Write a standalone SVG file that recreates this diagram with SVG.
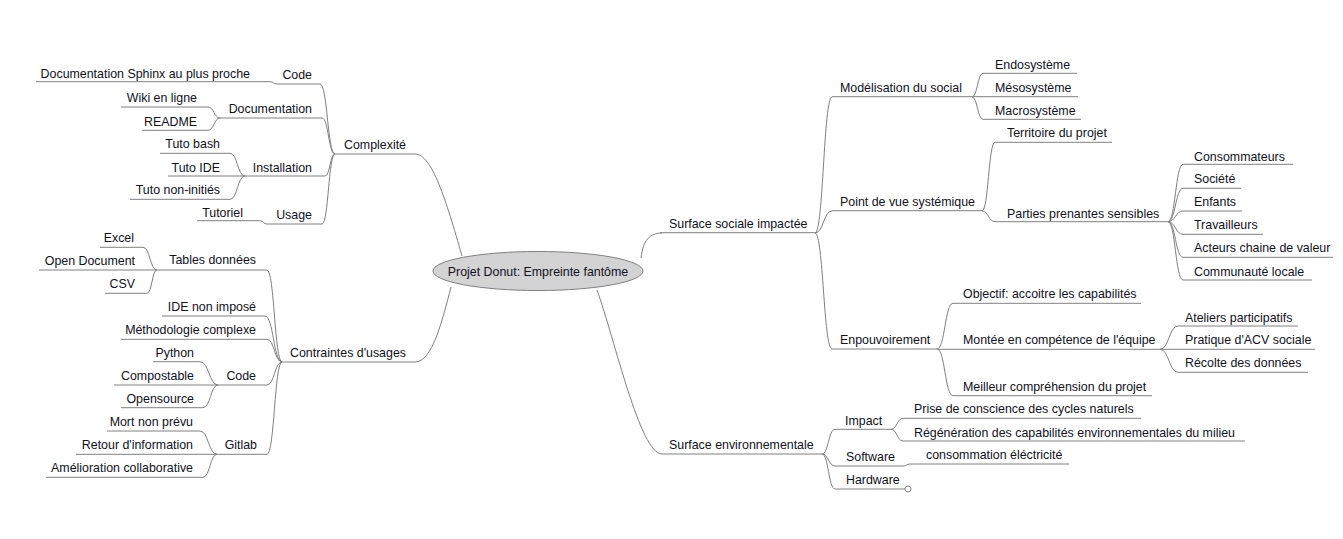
<svg xmlns="http://www.w3.org/2000/svg" width="1343" height="539" viewBox="0 0 1343 539">
<style>
text{font-family:"Liberation Sans",Arial,sans-serif;font-size:12.4px;fill:#111122}
.l text{text-anchor:end}
.u{stroke:#808080;stroke-width:1;fill:none}
.c path{stroke:#808080;stroke-width:1;fill:none}
</style>
<rect width="1343" height="539" fill="#ffffff"/>
<g class="c" id="connectors">
<path d="M415 154 C432 154,446 200,462 256"/>
<path d="M415 362 C432 362,442 322,451 287"/>
<path d="M641 258 C643 240,650 233,662 233"/>
<path d="M597 290 C615 340,640 454,662 454"/>
<path d="M320 84 C327.5 84,327.5 154,335 154"/>
<path d="M322 118 C328.5 118,328.5 154,335 154"/>
<path d="M325 176 C330 176,330 154,335 154"/>
<path d="M322 224 C328.5 224,328.5 154,335 154"/>
<path d="M270 81.7 C273.5 81.7,273.5 84,277 84"/>
<path d="M208 107 C214 107,214 118,220 118"/>
<path d="M208 130.3 C214 130.3,214 118,220 118"/>
<path d="M230 153.3 C237.5 153.3,237.5 176,245 176"/>
<path d="M230 199.3 C237.5 199.3,237.5 176,245 176"/>
<path d="M260 220.7 C263.5 220.7,263.5 224,267 224"/>
<path d="M267 270 C274.5 270,274.5 362,282 362"/>
<path d="M265 316 C273.5 316,273.5 362,282 362"/>
<path d="M267 339.3 C274.5 339.3,274.5 362,282 362"/>
<path d="M267 385 C274.5 385,274.5 362,282 362"/>
<path d="M267 454.3 C274.5 454.3,274.5 362,282 362"/>
<path d="M143 247.3 C150 247.3,150 270,157 270"/>
<path d="M147 293.3 C152 293.3,152 270,157 270"/>
<path d="M200 361.7 C209 361.7,209 385,218 385"/>
<path d="M203 407.7 C210.5 407.7,210.5 385,218 385"/>
<path d="M200 431 C208.5 431,208.5 454.3,217 454.3"/>
<path d="M203 477.3 C210 477.3,210 454.3,217 454.3"/>
<path d="M815 233 C823.5 233,823.5 97,832 97"/>
<path d="M815 233 C823.5 233,823.5 211,832 211"/>
<path d="M815 233 C823.5 233,823.5 349,832 349"/>
<path d="M972 97 C977.5 97,977.5 73.3,983 73.3"/>
<path d="M972 97 C977.5 97,977.5 119.3,983 119.3"/>
<path d="M982 211 C988.5 211,988.5 142.3,995 142.3"/>
<path d="M982 211 C988.5 211,988.5 221.7,995 221.7"/>
<path d="M1168 221.7 C1175.5 221.7,1175.5 164.3,1183 164.3"/>
<path d="M1168 221.7 C1175.5 221.7,1175.5 188.3,1183 188.3"/>
<path d="M1168 221.7 C1175.5 221.7,1175.5 211,1183 211"/>
<path d="M1168 221.7 C1175.5 221.7,1175.5 234.3,1183 234.3"/>
<path d="M1168 221.7 C1175.5 221.7,1175.5 257.3,1183 257.3"/>
<path d="M1168 221.7 C1175.5 221.7,1175.5 280,1183 280"/>
<path d="M937 349 C945 349,945 303.3,953 303.3"/>
<path d="M937 349 C945 349,945 395.7,953 395.7"/>
<path d="M1160 349.3 C1169 349.3,1169 326,1178 326"/>
<path d="M1160 349.3 C1169 349.3,1169 372.3,1178 372.3"/>
<path d="M822 454 C828.5 454,828.5 429.3,835 429.3"/>
<path d="M822 454 C828.5 454,828.5 466,835 466"/>
<path d="M822 454 C828.5 454,828.5 489,835 489"/>
<path d="M891 429.3 C897 429.3,897 418.3,903 418.3"/>
<path d="M891 429.3 C897 429.3,897 441,903 441"/>
<path d="M903 466 C906.5 466,906.5 464,910 464"/>
</g>
<g id="root">
<ellipse cx="538" cy="271" rx="105" ry="19.5" fill="#d3d3d3" stroke="#808080"/>
<text x="538" y="276" text-anchor="middle">Projet Donut: Empreinte fantôme</text>
</g>
<g class="l">
<g id="n-complexite"><text x="406" y="149">Complexité</text><path class="u" d="M335 154H415"/></g>
<g id="n-code1"><text x="312" y="79">Code</text><path class="u" d="M277 84H320"/></g>
<g id="n-sphinx"><text x="250" y="77.5">Documentation Sphinx au plus proche</text><path class="u" d="M36 81.7H270"/></g>
<g id="n-documentation"><text x="312" y="113">Documentation</text><path class="u" d="M220 118H322"/></g>
<g id="n-wiki"><text x="197" y="102">Wiki en ligne</text><path class="u" d="M121 107H208"/></g>
<g id="n-readme"><text x="197" y="125.7">README</text><path class="u" d="M142 130.3H208"/></g>
<g id="n-installation"><text x="312" y="171.7">Installation</text><path class="u" d="M245 176H325"/></g>
<g id="n-tutobash"><text x="220" y="148">Tuto bash</text><path class="u" d="M160 153.3H230"/></g>
<g id="n-tutoide"><text x="220" y="171.7">Tuto IDE</text><path class="u" d="M168 176H245"/></g>
<g id="n-tutonon"><text x="220" y="194.3">Tuto non-initiés</text><path class="u" d="M130 199.3H230"/></g>
<g id="n-usage"><text x="312" y="219">Usage</text><path class="u" d="M267 224H322"/></g>
<g id="n-tutoriel"><text x="243" y="216.7">Tutoriel</text><path class="u" d="M197 220.7H260"/></g>
<g id="n-contraintes"><text x="406" y="357.3">Contraintes d'usages</text><path class="u" d="M282 362H415"/></g>
<g id="n-tables"><text x="256" y="264.3">Tables données</text><path class="u" d="M157 270H267"/></g>
<g id="n-excel"><text x="134" y="242.3">Excel</text><path class="u" d="M100 247.3H143"/></g>
<g id="n-opendoc"><text x="135" y="265">Open Document</text><path class="u" d="M39 270H157"/></g>
<g id="n-csv"><text x="135" y="288.3">CSV</text><path class="u" d="M105 293.3H147"/></g>
<g id="n-ide"><text x="256" y="311">IDE non imposé</text><path class="u" d="M162 316H265"/></g>
<g id="n-methodo"><text x="256" y="334.3">Méthodologie complexe</text><path class="u" d="M121 339.3H267"/></g>
<g id="n-code2"><text x="256" y="380">Code</text><path class="u" d="M218 385H267"/></g>
<g id="n-python"><text x="194" y="356.7">Python</text><path class="u" d="M153 361.7H200"/></g>
<g id="n-compostable"><text x="194" y="380">Compostable</text><path class="u" d="M114 385H218"/></g>
<g id="n-opensource"><text x="194" y="403.3">Opensource</text><path class="u" d="M121 407.7H203"/></g>
<g id="n-gitlab"><text x="257" y="449">Gitlab</text><path class="u" d="M217 454.3H267"/></g>
<g id="n-mort"><text x="193" y="426">Mort non prévu</text><path class="u" d="M107 431H200"/></g>
<g id="n-retour"><text x="193" y="449">Retour d'information</text><path class="u" d="M76 454.3H217"/></g>
<g id="n-amelioration"><text x="193" y="472.3">Amélioration collaborative</text><path class="u" d="M46 477.3H203"/></g>
</g>
<g class="r">
<g id="n-social"><text x="669" y="228.3">Surface sociale impactée</text><path class="u" d="M660 232.7H815"/></g>
<g id="n-modelisation"><text x="840" y="91.7">Modélisation du social</text><path class="u" d="M832 96.7H972"/></g>
<g id="n-endo"><text x="995" y="69.3">Endosystème</text><path class="u" d="M983 73.3H1077"/></g>
<g id="n-meso"><text x="995" y="91.7">Mésosystème</text><path class="u" d="M972 96.7H1078"/></g>
<g id="n-macro"><text x="995" y="115">Macrosystème</text><path class="u" d="M983 119.3H1081"/></g>
<g id="n-pointdevue"><text x="840" y="205.7">Point de vue systémique</text><path class="u" d="M832 210.7H982"/></g>
<g id="n-territoire"><text x="1007" y="136.7">Territoire du projet</text><path class="u" d="M995 142.3H1112"/></g>
<g id="n-parties"><text x="1007" y="217.7">Parties prenantes sensibles</text><path class="u" d="M995 221.7H1168"/></g>
<g id="n-conso"><text x="1194" y="160.7">Consommateurs</text><path class="u" d="M1183 164.3H1293"/></g>
<g id="n-societe"><text x="1194" y="183.3">Société</text><path class="u" d="M1183 188.3H1241"/></g>
<g id="n-enfants"><text x="1194" y="206">Enfants</text><path class="u" d="M1183 211H1242"/></g>
<g id="n-travailleurs"><text x="1194" y="229.3">Travailleurs</text><path class="u" d="M1183 234.3H1263"/></g>
<g id="n-acteurs"><text x="1194" y="252.3">Acteurs chaine de valeur</text><path class="u" d="M1183 257.3H1333"/></g>
<g id="n-communaute"><text x="1194" y="275.7">Communauté locale</text><path class="u" d="M1183 280H1312"/></g>
<g id="n-enpouvoirement"><text x="840" y="344.3">Enpouvoirement</text><path class="u" d="M832 349H937"/></g>
<g id="n-objectif"><text x="963" y="298.3">Objectif: accoitre les capabilités</text><path class="u" d="M953 303.3H1141"/></g>
<g id="n-montee"><text x="963" y="344.3">Montée en compétence de l'équipe</text><path class="u" d="M937 349.3H1160"/></g>
<g id="n-ateliers"><text x="1185" y="321.7">Ateliers participatifs</text><path class="u" d="M1178 326H1298"/></g>
<g id="n-pratique"><text x="1185" y="344.3">Pratique d'ACV sociale</text><path class="u" d="M1160 349.3H1315"/></g>
<g id="n-recolte"><text x="1185" y="367.3">Récolte des données</text><path class="u" d="M1178 372.3H1308"/></g>
<g id="n-meilleur"><text x="963" y="391">Meilleur compréhension du projet</text><path class="u" d="M953 395.7H1152"/></g>
<g id="n-env"><text x="669" y="449.3">Surface environnementale</text><path class="u" d="M662 454H822"/></g>
<g id="n-impact"><text x="845" y="425">Impact</text><path class="u" d="M835 429.3H891"/></g>
<g id="n-prise"><text x="914" y="413.3">Prise de conscience des cycles naturels</text><path class="u" d="M903 418.3H1141"/></g>
<g id="n-regeneration"><text x="914" y="436.7">Régénération des capabilités environnementales du milieu</text><path class="u" d="M903 441H1245"/></g>
<g id="n-software"><text x="846" y="461">Software</text><path class="u" d="M835 466H903"/></g>
<g id="n-consommation"><text x="926" y="459">consommation éléctricité</text><path class="u" d="M910 464H1069"/></g>
<g id="n-hardware"><text x="846" y="484">Hardware</text><path class="u" d="M835 489H905"/><circle cx="908" cy="489" r="3" fill="#ffffff" stroke="#808080"/></g>
</g>
</svg>
